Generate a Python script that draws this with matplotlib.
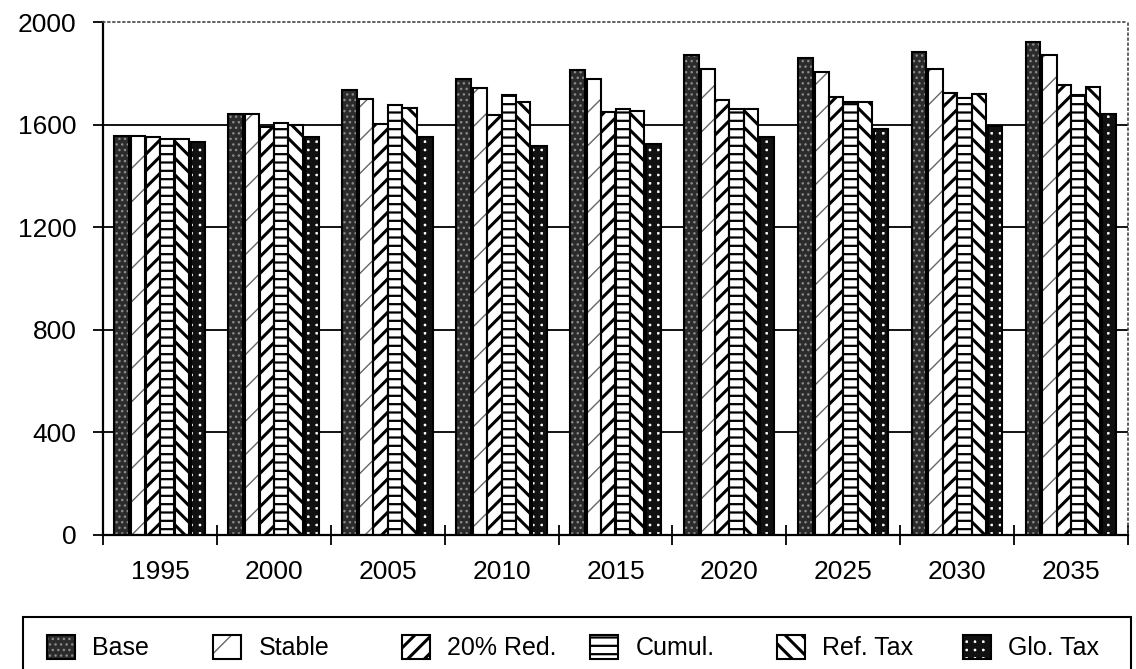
import numpy as np
import matplotlib.pyplot as plt
from matplotlib.patches import Rectangle
from matplotlib.legend_handler import HandlerTuple

plt.rcParams['font.family'] = ['Liberation Sans', 'DejaVu Sans']

# data
years = ['1995', '2000', '2005', '2010', '2015', '2020', '2025', '2030', '2035']
base = [1555, 1640, 1736, 1779, 1814, 1872, 1860, 1883, 1922]
stable = [1555, 1640, 1700, 1744, 1779, 1817, 1806, 1817, 1872]
red20 = [1550, 1592, 1604, 1639, 1650, 1697, 1709, 1724, 1755]
cumul = [1542, 1608, 1678, 1717, 1662, 1662, 1689, 1705, 1717]
ref_tax = [1542, 1600, 1666, 1689, 1654, 1662, 1689, 1720, 1748]
glo_tax = [1534, 1550, 1553, 1515, 1526, 1550, 1584, 1596, 1643]
names = ['Base', 'Stable', '20% Red.', 'Cumul.', 'Ref. Tax', 'Glo. Tax']
values = [base, stable, red20, cumul, ref_tax, glo_tax]

# fill, hatch, hatch colour, hatch width
styles = [
    ('#2b2b2b', '...', '#8a8a8a', 1.0),
    ('white', '/', '#666666', 1.0),
    ('white', '//', 'black', 2.2),
    ('white', '--', 'black', 1.6),
    ('white', '\\\\', 'black', 2.2),
    ('white', '++', '#111111', 4.2),
]
offsets = [-0.335, -0.19, -0.063, 0.063, 0.19, 0.333]
widths = [0.13, 0.125, 0.125, 0.125, 0.125, 0.125]

fig = plt.figure(figsize=(11.36, 6.69), dpi=100)
ax = fig.add_axes([0.0907, 0.2003, 0.9023, 0.7668])

x = np.arange(len(years))
handles = []
for vals, (fc, hatch, hc, hlw), off, w in zip(values, styles, offsets, widths):
    with plt.rc_context({'hatch.linewidth': hlw}):
        ax.bar(x + off, vals, width=w, color=fc, edgecolor=hc, hatch=hatch,
               linewidth=0, zorder=2)
        h1 = Rectangle((0, 0), 1, 1, facecolor=fc, edgecolor=hc, hatch=hatch,
                       linewidth=0)
    ax.bar(x + off, vals, width=w, fill=False, edgecolor='black',
           linewidth=1.5, zorder=3)
    h2 = Rectangle((0, 0), 1, 1, fill=False, edgecolor='black', linewidth=1.5)
    handles.append((h1, h2))

ax.set_xlim(-0.5, len(years) - 0.5)
ax.set_ylim(0, 2000)
ax.set_yticks([0, 400, 800, 1200, 1600, 2000])
ax.set_xticks(x)
ax.set_xticklabels(years)
ax.set_xticks(np.arange(len(years) + 1) - 0.5, minor=True)
ax.tick_params(axis='x', which='major', length=0, pad=18, labelsize=19)
ax.tick_params(axis='x', which='minor', length=14, direction='inout', width=1.3)
ax.tick_params(axis='y', length=7, width=1.3, labelsize=19, pad=12)

for yv in [400, 800, 1200, 1600]:
    ax.axhline(yv, color='black', linewidth=1.3, zorder=1)

for side in ['left', 'bottom']:
    ax.spines[side].set_linewidth(1.6)
for side in ['top', 'right']:
    ax.spines[side].set_linestyle((0, (1, 2)))
    ax.spines[side].set_color('#444444')
    ax.spines[side].set_linewidth(1.2)

# legend frame running off the bottom edge
fig.patches.append(Rectangle((23 / 1136, -0.02), 1108 / 1136, 0.0977,
                             transform=fig.transFigure, fill=False,
                             edgecolor='black', linewidth=1.5))

# one legend per entry, placed on a fixed pitch like the original
starts = [47, 213, 402, 590, 777, 963]
for h, name, sx, st in zip(handles, names, starts, styles):
    with plt.rc_context({'hatch.linewidth': st[3]}):
        fig.legend([h], [name], loc='center left',
                   bbox_to_anchor=(sx / 1136, 0.032),
                   bbox_transform=fig.transFigure, frameon=False, fontsize=18,
                   handlelength=1.12, handleheight=1.12, handletextpad=0.7,
                   borderpad=0, borderaxespad=0,
                   handler_map={tuple: HandlerTuple(ndivide=1, pad=0)})

fig.savefig('out.png', dpi=100)
